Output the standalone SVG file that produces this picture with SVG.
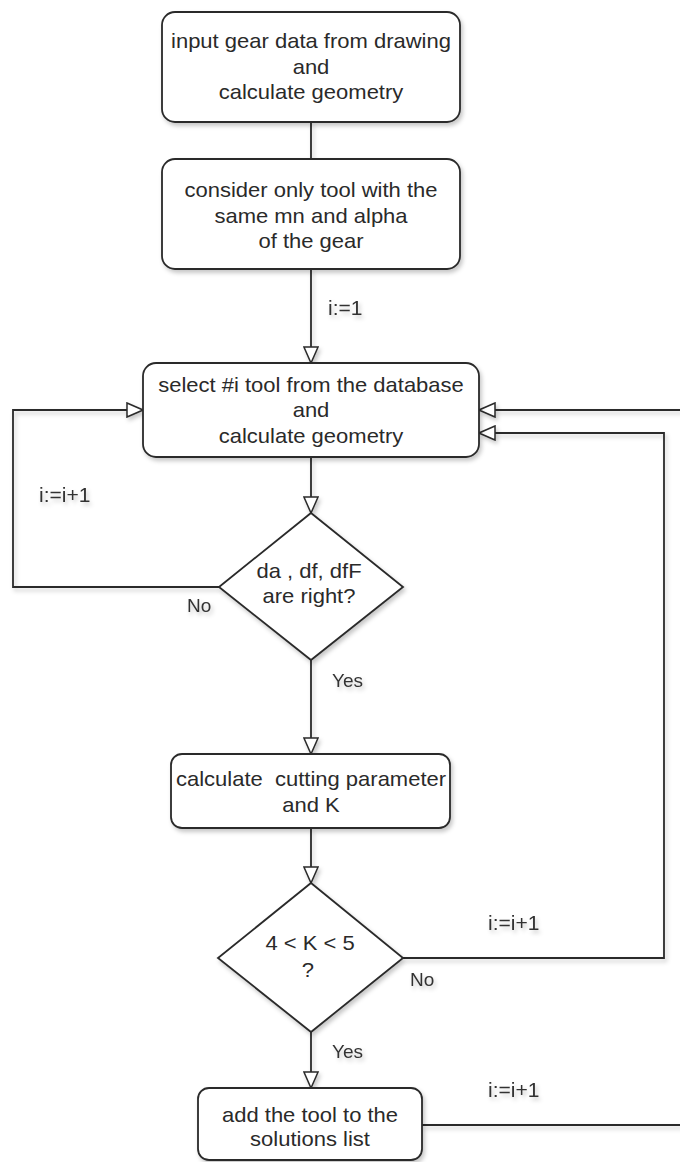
<svg xmlns="http://www.w3.org/2000/svg" width="680" height="1162" viewBox="0 0 680 1162">
<style>
.n{fill:#fff;stroke:#2a2a2a;stroke-width:1.8}
.c{fill:none;stroke:#2a2a2a;stroke-width:1.8}
.t{font-family:"Liberation Sans",Arial,sans-serif;font-size:20px;fill:#2a2a2a;text-anchor:middle}
.l{font-family:"Liberation Sans",Arial,sans-serif;font-size:19px;fill:#333}
.li{font-family:"Liberation Sans",Arial,sans-serif;font-size:21px;fill:#333}
</style>
<defs>
<filter id="sh" x="-10%" y="-10%" width="130%" height="130%">
<feDropShadow dx="2" dy="3" stdDeviation="2" flood-color="#000" flood-opacity="0.22"/>
</filter>
<marker id="ar" markerUnits="userSpaceOnUse" markerWidth="18" markerHeight="16" refX="17" refY="7.5" orient="auto" viewBox="-1 -1 19 17">
<path d="M0,0 L17,7.5 L0,15 Z" fill="#fff" stroke="#2a2a2a" stroke-width="1.6"/>
</marker>
</defs>
<rect width="680" height="1162" fill="#fff"/>
<g id="connectors" filter="url(#sh)">
<path class="c" d="M311,122 L311,159"/>
<path class="c" d="M311,269 L311,363" marker-end="url(#ar)"/>
<path class="c" d="M311,457 L311,513" marker-end="url(#ar)"/>
<path class="c" d="M219,587 L13,587 L13,410 L143,410" marker-end="url(#ar)"/>
<path class="c" d="M311,660 L311,754" marker-end="url(#ar)"/>
<path class="c" d="M311,828 L311,883" marker-end="url(#ar)"/>
<path class="c" d="M403,958 L664,958 L664,433 L479,433" marker-end="url(#ar)"/>
<path class="c" d="M311,1032 L311,1088" marker-end="url(#ar)"/>
<path class="c" d="M422,1125 L682,1125"/>
<path class="c" d="M682,410 L479,410" marker-end="url(#ar)"/>
<text class="li" x="328" y="315">i:=1</text>
<text class="li" x="39" y="502">i:=i+1</text>
<text class="l" x="187" y="612">No</text>
<text class="l" x="332" y="687">Yes</text>
<text class="li" x="488" y="930">i:=i+1</text>
<text class="l" x="410" y="986">No</text>
<text class="l" x="332" y="1058">Yes</text>
<text class="li" x="488" y="1097">i:=i+1</text>
</g>
<g id="n1">
<rect class="n" x="162" y="12" width="298" height="110" rx="13" filter="url(#sh)"/>
<g transform="translate(311 0) scale(1.1 1)">
<text class="t" x="0" y="48">input gear data from drawing</text>
<text class="t" x="0" y="74">and</text>
<text class="t" x="0" y="99">calculate geometry</text>
</g>
</g>
<g id="n2">
<rect class="n" x="162" y="159" width="298" height="110" rx="13" filter="url(#sh)"/>
<g transform="translate(311 0) scale(1.1 1)">
<text class="t" x="0" y="197">consider only tool with the</text>
<text class="t" x="0" y="223">same mn and alpha</text>
<text class="t" x="0" y="248">of the gear</text>
</g>
</g>
<g id="n3">
<rect class="n" x="143" y="363" width="336" height="94" rx="13" filter="url(#sh)"/>
<g transform="translate(311 0) scale(1.1 1)">
<text class="t" x="0" y="392">select #i tool from the database</text>
<text class="t" x="0" y="417">and</text>
<text class="t" x="0" y="443">calculate geometry</text>
</g>
</g>
<g id="d1">
<polygon class="n" points="311,513 403,587 311,660 219,587" filter="url(#sh)"/>
<g transform="translate(309 0) scale(1.1 1)">
<text class="t" x="0" y="578">da , df, dfF</text>
<text class="t" x="0" y="603">are right?</text>
</g>
</g>
<g id="n4">
<rect class="n" x="171" y="754" width="279" height="74" rx="11" filter="url(#sh)"/>
<g transform="translate(311 0) scale(1.1 1)">
<text class="t" x="0" y="786" xml:space="preserve">calculate  cutting parameter</text>
<text class="t" x="0" y="812">and K</text>
</g>
</g>
<g id="d2">
<polygon class="n" points="311,883 403,958 311,1032 218,958" filter="url(#sh)"/>
<g transform="translate(310 0) scale(1.1 1)">
<text class="t" x="0" y="950">4 &lt; K &lt; 5</text>
<text class="t" x="-2" y="977">?</text>
</g>
</g>
<g id="n5">
<rect class="n" x="198" y="1088" width="224" height="72" rx="11" filter="url(#sh)"/>
<g transform="translate(310 0) scale(1.1 1)">
<text class="t" x="0" y="1122">add the tool to the</text>
<text class="t" x="0" y="1146">solutions list</text>
</g>
</g>
</svg>
